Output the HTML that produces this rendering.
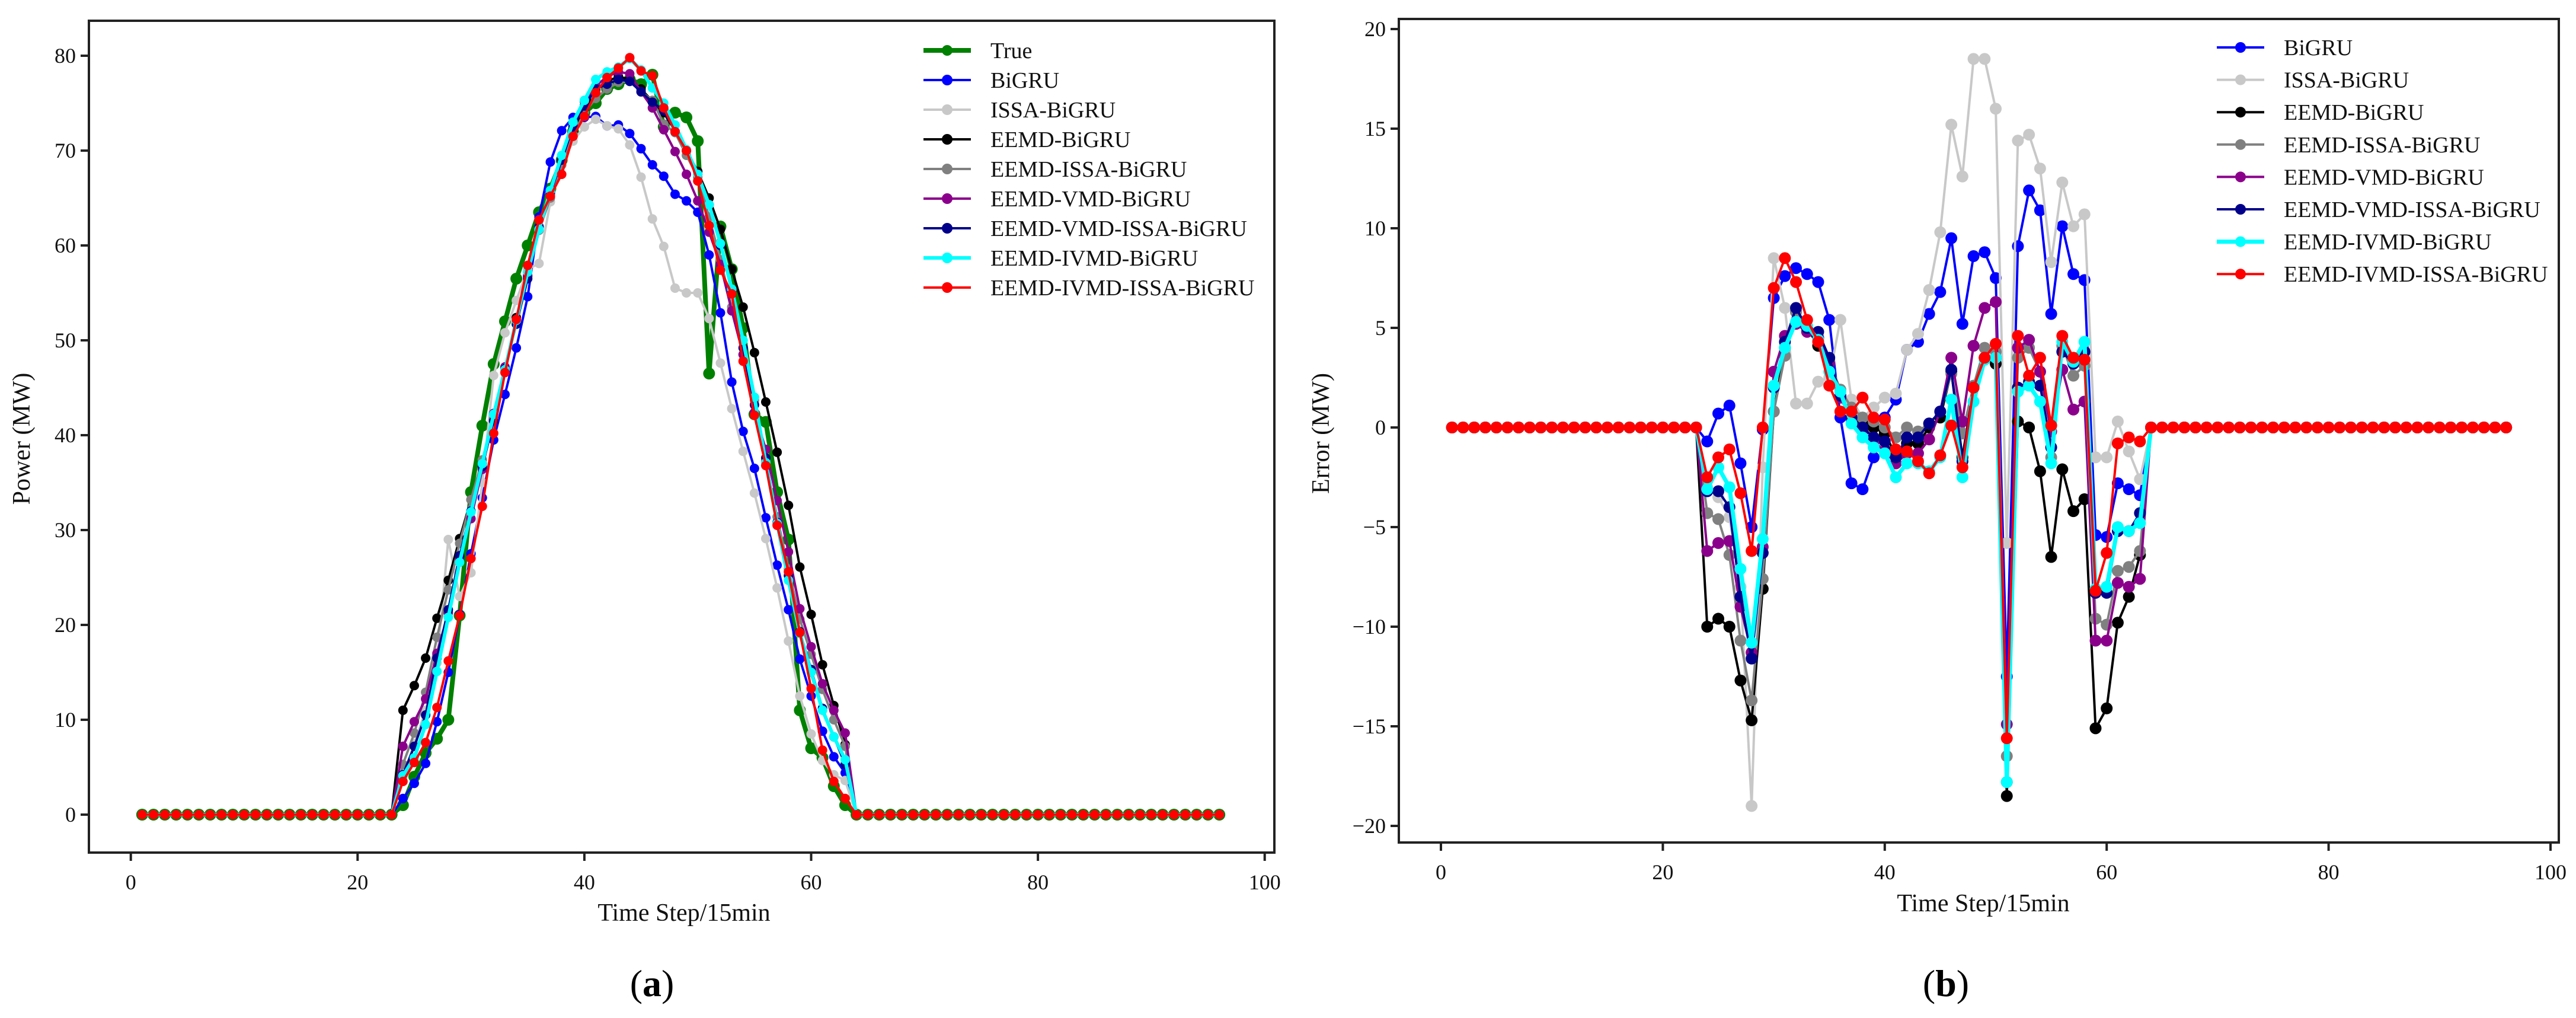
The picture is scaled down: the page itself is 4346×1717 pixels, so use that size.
<!DOCTYPE html>
<html><head><meta charset="utf-8">
<style>
html,body{margin:0;padding:0;background:#fff;}
svg{display:block;font-family:"Liberation Serif",serif;}
</style></head>
<body>
<svg id="fig" width="4346" height="1717" viewBox="0 0 4346 1717" xmlns="http://www.w3.org/2000/svg">
<rect x="0" y="0" width="4346" height="1717" fill="#fff"/>
<g id="pa"></g>
<g id="pb"></g>
<text x="1100" y="1680" font-size="64" text-anchor="middle">(<tspan font-weight="bold">a</tspan>)</text>
<text x="3283" y="1680" font-size="64" text-anchor="middle">(<tspan font-weight="bold">b</tspan>)</text>
</svg>
<script>
// ---- data ----
const steps = Array.from({length:96},(_,i)=>i+1);
const activeStart = 24; // first non-zero step (arrays below cover 24..63)
const trueVals = [1,4,6.5,8,10,21,34,41,47.5,52,56.5,60,63.5,66,69,72,74,75,76.5,77,77.5,77,78,72.5,74,73.5,71,46.5,62,57.5,51.3,42.2,41.4,34,29,11,7,6,3,1];
const errBiGRU = [-0.7,0.7,1.1,-1.8,-5,-0.1,6.5,7.6,8.0,7.7,7.3,5.4,0.5,-2.8,-3.1,-1.5,0.5,1.4,3.9,4.3,5.7,6.8,9.5,5.2,8.6,8.8,7.5,-12.5,9.1,11.9,10.9,5.7,10.1,7.7,7.4,-5.4,-5.5,-2.8,-3.1,-3.4];
const errISSA = [-3,-3.5,-4.5,-8,-19,-2,8.5,6,1.2,1.2,2.3,2.5,5.4,1.4,0.5,1,1.5,1.7,3.9,4.7,6.9,9.8,15.2,12.6,18.5,18.5,16,-5.8,14.4,14.7,13,8.3,12.3,10.1,10.7,-1.5,-1.5,0.3,-1.2,-2.6];
const errEEMD = [-10,-9.6,-10,-12.7,-14.7,-8.1,0.8,4,5.8,5,4.1,3.2,1.5,0.5,0.2,0,-0.3,-1.4,-0.8,-0.8,0,0.5,2.8,-1.5,2,3.5,3.2,-18.5,0.3,0,-2.2,-6.5,-2.1,-4.2,-3.6,-15.1,-14.1,-9.8,-8.5,-6.4];
const errEEMDISSA = [-4.3,-4.6,-6.4,-10.7,-13.7,-7.6,0.8,3.6,5.8,5,4.5,3.3,1.9,1,0.5,0.3,0,-0.5,0,-0.2,0.2,0.8,2.7,-0.3,2.1,4,3.8,-16.5,3.5,4,2.8,-1.5,4.1,2.6,3.1,-9.6,-9.9,-7.2,-7,-6.2];
const errVMD = [-6.2,-5.8,-5.7,-9,-11.3,-6,2.8,4.6,5.2,4.8,4.5,3.2,1.5,0.4,-0.2,-0.7,-1.2,-1.8,-1.3,-1.3,-0.6,0.8,3.5,0.3,4.1,6,6.3,-14.9,4,4.4,2.8,-0.2,2.9,0.9,1.3,-10.7,-10.7,-7.8,-8,-7.6];
const errVMDISSA = [-3.2,-3.2,-4,-8.5,-11.6,-6.3,2,4.3,6,5,4.8,3.5,1.6,0.5,0,-0.5,-0.7,-1.5,-0.5,-0.5,0.2,0.8,2.9,-1.7,2,3.5,3.5,-17.8,2,2.3,2.1,-1,3.8,3.2,3.8,-8.3,-8.3,-5.2,-5.2,-4.3];
const errIVMD = [-3.1,-2,-3,-7.1,-10.8,-5.6,2.1,4,5.3,5.1,4.4,2.8,1.8,0.2,-0.5,-1,-1.3,-2.5,-1.8,-1.8,-2.2,-1.5,1.4,-2.5,1.3,3.4,3.5,-17.8,1.8,2.1,1.3,-1.8,4.3,3.3,4.3,-8.1,-8,-5,-5.2,-4.8];
const errIVMDISSA = [-2.5,-1.5,-1.1,-3.3,-6.2,0,7,8.5,7.3,5.4,4.3,2.1,0.8,0.8,1.5,0.5,0.4,-1.1,-1.2,-1.7,-2.3,-1.4,0.1,-2,2,3.5,4.2,-15.6,4.6,2.6,3.5,0.1,4.6,3.5,3.4,-8.2,-6.3,-0.8,-0.5,-0.7];
const modelNames = ["BiGRU","ISSA-BiGRU","EEMD-BiGRU","EEMD-ISSA-BiGRU","EEMD-VMD-BiGRU","EEMD-VMD-ISSA-BiGRU","EEMD-IVMD-BiGRU","EEMD-IVMD-ISSA-BiGRU"];
const powerTicks = [0,10,20,30,40,50,60,70,80];
const errorTicks = [-20,-15,-10,-5,0,5,10,15,20];
const xTicks = [0,20,40,60,80,100];

const errSeries = [errBiGRU,errISSA,errEEMD,errEEMDISSA,errVMD,errVMDISSA,errIVMD,errIVMDISSA];
const colors = ["#0000ff","#c8c8c8","#000000","#808080","#8b008b","#00008b","#00ffff","#ff0000"];
const NS="http://www.w3.org/2000/svg";
function mk(tag,attrs,parent){const e=document.createElementNS(NS,tag);for(const k in attrs)e.setAttribute(k,attrs[k]);parent.appendChild(e);return e;}
function full(arr){return steps.map(s=>{const i=s-activeStart;return (i>=0&&i<arr.length)?arr[i]:0;});}
const trueFull = full(trueVals);

function axes(g,box,xs,ys,yTicks,yTitle,xTitleX,xTitleY,yTitleX,yTitleY){
  mk('rect',{x:box.l,y:box.t,width:box.r-box.l,height:box.b-box.t,fill:'none',stroke:'#222','stroke-width':4},g);
  xTicks.forEach(v=>{
    const t=mk('line',{x1:xs(v),x2:xs(v),y1:box.b,y2:box.b+14,stroke:'#222','stroke-width':4},g);
    
    
    const l=mk('text',{x:xs(v),y:box.b+62,'font-size':36,'text-anchor':'middle',fill:'#111'},g);
    l.textContent=v;
    
    
  });
  yTicks.forEach(v=>{
    const t=mk('line',{x1:box.l-14,x2:box.l,y1:ys(v),y2:ys(v),stroke:'#222','stroke-width':4},g);
    
    
    const l=mk('text',{x:box.l-22,y:ys(v)+12,'font-size':36,'text-anchor':'end',fill:'#111'},g);
    l.textContent=(v<0?'\u2212'+(-v):v);
    
    
  });
  const xt=mk('text',{x:xTitleX,y:xTitleY,'font-size':42,'text-anchor':'middle',fill:'#111'},g);
  xt.textContent='Time Step/15min';
  
  
  const yt=mk('text',{x:0,y:0,'font-size':42,'text-anchor':'middle',fill:'#111',transform:`translate(${yTitleX},${yTitleY}) rotate(-90)`},g);
  yt.textContent=yTitle;
  
  
}
function series(g,xs,ys,vals,color,lw,r,name){
  const sg=mk('g',{},g);
  
  
  const pts=steps.map((s,i)=>xs(s).toFixed(1)+','+ys(vals[i]).toFixed(1)).join(' ');
  mk('polyline',{points:pts,fill:'none',stroke:color,'stroke-width':lw,'stroke-linejoin':'round'},sg);
  steps.forEach((s,i)=>{
    const c=mk('circle',{cx:xs(s),cy:ys(vals[i]),r:r,fill:color},sg);
    
    
  });
}
function legend(g,x0,y0,dy,names,cols,widths,fs){
  names.forEach((n,i)=>{
    const y=y0+i*dy;
    const lg=mk('g',{},g);
    
    
    mk('line',{x1:x0,x2:x0+80,y1:y,y2:y,stroke:cols[i],'stroke-width':widths[i]},lg);
    mk('circle',{cx:x0+40,cy:y,r:9,fill:cols[i]},lg);
    const t=mk('text',{x:x0+113,y:y+13,'font-size':fs,fill:'#111'},lg);
    t.textContent=names[i];
  });
}
// ---- chart a ----
(function(){
  const g=document.getElementById('pa');
  const box={l:150,r:2150,t:35,b:1438};
  const xs=v=>220.7+v*19.13;
  const ys=v=>1374-v*16.0;
  axes(g,box,xs,ys,powerTicks,'Power (MW)',1154,1553,50,740);
  series(g,xs,ys,trueFull,'#008000',8,10,'series-true');
  errSeries.forEach((e,k)=>{
    const ef=full(e);
    const pred=trueFull.map((t,i)=>t-ef[i]);
    series(g,xs,ys,pred,colors[k],k===6?6:4,8,'series-'+modelNames[k].toLowerCase());
  });
  legend(g,1558,85,50,['True'].concat(modelNames),['#008000'].concat(colors),[8,4,4,4,4,4,4,6,4],38);
})();
// ---- chart b ----
(function(){
  const g=document.getElementById('pb');
  const box={l:2360,r:4317,t:32,b:1421};
  const xs=v=>2431+v*18.72;
  const ys=v=>721-v*33.6;
  axes(g,box,xs,ys,errorTicks,'Error (MW)',3346,1537,2242,731);
  errSeries.forEach((e,k)=>{
    series(g,xs,ys,full(e),colors[k],k===6?7:4,10,'error-'+modelNames[k].toLowerCase());
  });
  legend(g,3740,80,54.6,modelNames,colors,[4,4,4,4,4,4,7,4],38);
})();
</script>
</body></html>
